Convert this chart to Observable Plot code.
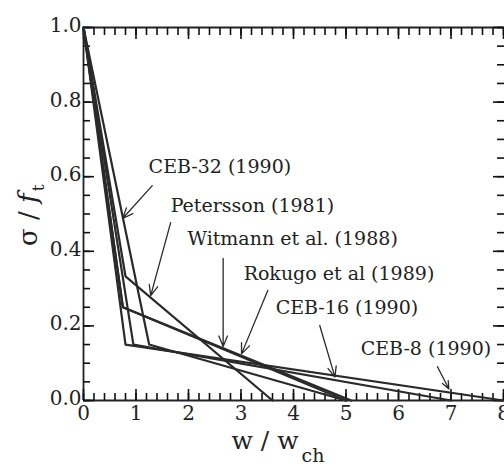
<!DOCTYPE html>
<html><head><meta charset="utf-8">
<script src="https://cdn.jsdelivr.net/npm/d3@7"></script>
<script src="https://cdn.jsdelivr.net/npm/@observablehq/plot@0.6"></script>
<style>body{margin:0;background:#fff} svg{display:block}</style>
</head><body><div id="chart"></div>
<script>
// Bilinear softening curves: (0,1) -> (w1,s1) -> (wc,0)
const models = ["CEB-32 (1990)", "Petersson (1981)", "Witmann et al. (1988)", "Rokugo et al (1989)", "CEB-16 (1990)", "CEB-8 (1990)"];
const w1 = [1.25, 0.8, 0.75, 0.75, 0.95, 0.8];
const s1 = [0.15, 0.333, 0.25, 0.25, 0.15, 0.15];
const wc = [5, 3.6, 5, 5.1, 7, 8];

// label anchors (data units) and arrow endpoints
const labelX = [1.24, 1.66, 1.98, 3.05, 3.66, 5.28];
const labelY = [0.625, 0.523, 0.434, 0.340, 0.247, 0.139];
const arrowFromX = [1.31, 1.66, 2.66, 3.51, 4.50, 6.74];
const arrowFromY = [0.576, 0.477, 0.381, 0.295, 0.201, 0.091];
const arrowToX = [0.745, 1.28, 2.66, 3.01, 4.79, 6.96];
const arrowToY = [0.488, 0.281, 0.145, 0.125, 0.0625, 0.031];

const xTicks = [0, 1, 2, 3, 4, 5, 6, 7, 8];
const yTicks = [0, 0.2, 0.4, 0.6, 0.8, 1.0];
const xMinor = d3.range(0, 8.001, 0.2).map(v => +v.toFixed(1));
const yMinor = d3.range(0, 1.0001, 0.05).map(v => +v.toFixed(2));

const curves = models.flatMap((m, i) => [
  {model: m, w: 0, s: 1},
  {model: m, w: w1[i], s: s1[i]},
  {model: m, w: wc[i], s: 0}
]);
const labels = models.map((m, i) => ({model: m, x: labelX[i], y: labelY[i]}));
const arrows = models.map((m, i) => ({x1: arrowFromX[i], y1: arrowFromY[i], x2: arrowToX[i], y2: arrowToY[i]}));

const W = 504, H = 464, mL = 83, mR = 1, mT = 27, mB = 64;
const XMAX = 8, YMAX = 1;
const ink = "#222";
const tk = {stroke: "#111", strokeWidth: 1.6, tickFormat: () => ""};
const chart = Plot.plot({
  width: W, height: H,
  marginLeft: mL, marginRight: mR, marginTop: mT, marginBottom: mB,
  style: {fontFamily: "DejaVu Serif", background: "#fff", color: ink},
  x: {domain: [0, XMAX], label: null},
  y: {domain: [0, YMAX], label: null},
  marks: [
    Plot.ruleY([0, YMAX], {stroke: ink, strokeWidth: 1.8}),
    Plot.ruleX([0], {stroke: ink, strokeWidth: 1.8}),
    // inward ticks (negative tickSize points into the frame)
    Plot.axisX(xMinor, {anchor: "bottom", tickSize: -7, ...tk}),
    Plot.axisX(xTicks, {anchor: "bottom", tickSize: -11, ...tk}),
    Plot.axisX(xMinor, {anchor: "top", tickSize: -7, ...tk}),
    Plot.axisX(xTicks, {anchor: "top", tickSize: -11, ...tk}),
    Plot.axisY(yMinor, {anchor: "left", tickSize: -7, ...tk}),
    Plot.axisY(yTicks, {anchor: "left", tickSize: -11, ...tk}),
    Plot.axisY(yMinor, {anchor: "right", tickSize: -7, ...tk}),
    Plot.axisY(yTicks, {anchor: "right", tickSize: -11, ...tk}),
    // tick labels
    Plot.axisX(xTicks, {anchor: "bottom", tickSize: 0, tickPadding: 5, fontSize: 20, tickFormat: d3.format("d")}),
    Plot.axisY(yTicks, {anchor: "left", tickSize: 0, tickPadding: 2, fontSize: 20, tickFormat: d3.format(".1f"), dy: -2}),
    Plot.line(curves, {x: "w", y: "s", z: "model", stroke: "#2a2a2a", strokeWidth: 2.2}),
    Plot.arrow(arrows, {x1: "x1", y1: "y1", x2: "x2", y2: "y2", stroke: "#2a2a2a", strokeWidth: 1.3, headLength: 13, headAngle: 45}),
    Plot.text(labels, {x: "x", y: "y", text: "model", textAnchor: "start", fontSize: 19, fill: ink})
  ]
});
document.getElementById("chart").appendChild(chart);

const svg = d3.select(chart);
// y-axis label σ/f_t
const yl = svg.append("text")
  .attr("transform", "translate(37,246) rotate(-90)")
  .attr("font-family", "DejaVu Serif").attr("font-size", 26).attr("fill", ink)
  .attr("text-anchor", "start");
yl.append("tspan").text("σ / ");
yl.append("tspan").attr("font-style", "italic").text("f");
yl.append("tspan").attr("font-size", 17).attr("dy", 7).attr("dx", 2).text("t");
// x-axis label w/w_ch
const xl = svg.append("text")
  .attr("x", 278).attr("y", 449)
  .attr("font-family", "DejaVu Serif").attr("font-size", 25).attr("fill", ink);
xl.append("tspan").text("w / w");
xl.append("tspan").attr("font-size", 19).attr("dy", 13).attr("dx", 3).text("ch");
</script>
</body></html>
